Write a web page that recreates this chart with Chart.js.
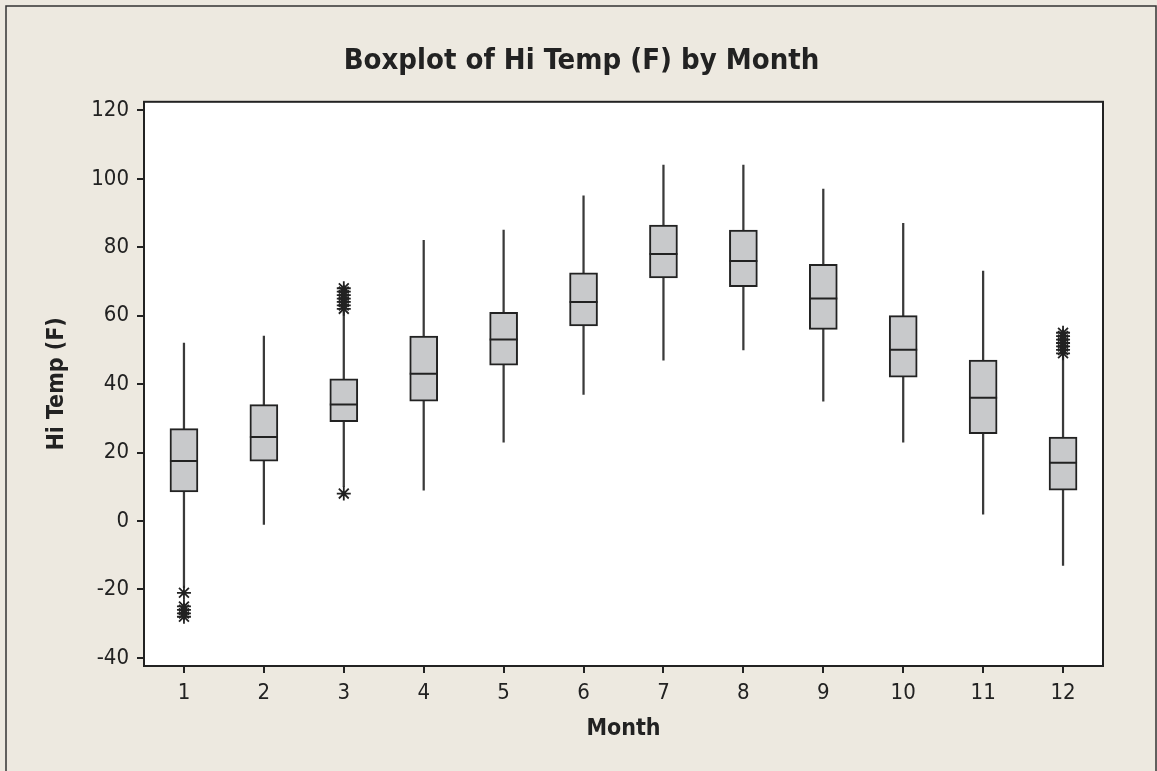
<!DOCTYPE html>
<html>
<head>
<meta charset="utf-8">
<script src="https://cdn.jsdelivr.net/npm/chart.js@4/dist/chart.umd.min.js"></script>
<style>
  html, body { margin: 0; padding: 0; background: #ede9e0; }
  #wrap { width: 1157px; height: 771px; position: relative; }
</style>
</head>
<body>
<div id="wrap"><canvas id="box-chart"></canvas></div>
<script>
// boxplot summary values per month
const months = ['1', '2', '3', '4', '5', '6', '7', '8', '9', '10', '11', '12'];
const whiskerLow = [-19.5, -1, 10, 9, 23, 37, 47, 50, 35, 23, 2, -13];
const q1 = [8.5, 17.5, 29, 35, 45.5, 57, 71, 68.5, 56, 42, 25.5, 9];
const medians = [17.5, 24.5, 34, 43, 53, 64, 78, 76, 65, 50, 36, 17];
const q3 = [27, 34, 41.5, 54, 61, 72.5, 86.5, 85, 75, 60, 47, 24.5];
const whiskerHigh = [52, 54, 61, 82, 85, 95, 104, 104, 97, 87, 73, 48];

// outliers (month, value)
const outlierMonths = ['1', '1', '1', '1', '1',
  '3', '3', '3', '3', '3', '3', '3', '3',
  '12', '12', '12', '12', '12', '12', '12'];
const outlierValues = [-21, -25, -26, -27, -28,
  8, 62, 63, 64, 65, 66, 67, 68,
  49, 50, 51, 52, 53, 54, 55];

const yTicks = [-40, -20, 0, 20, 40, 60, 80, 100, 120];

document.addEventListener('DOMContentLoaded', function () {
  const ink = '#222222';
  const face = "'DejaVu Sans Condensed', 'DejaVu Sans'";

  // frame, white plot area and its border
  const framePlugin = {
    id: 'frame',
    beforeDraw(chart) {
      const ctx = chart.ctx;
      const a = chart.chartArea;
      ctx.save();
      ctx.fillStyle = '#ede9e0';
      ctx.fillRect(0, 0, chart.width, chart.height);
      ctx.strokeStyle = '#333';
      ctx.lineWidth = 1.5;
      ctx.strokeRect(6, 6, chart.width - 7, chart.height + 10);
      ctx.fillStyle = '#ffffff';
      ctx.fillRect(a.left, a.top, a.right - a.left, a.bottom - a.top);
      ctx.restore();
    },
    afterDraw(chart) {
      const ctx = chart.ctx;
      const a = chart.chartArea;
      ctx.save();
      ctx.strokeStyle = ink;
      ctx.lineWidth = 2;
      ctx.strokeRect(a.left, a.top, a.right - a.left, a.bottom - a.top);
      ctx.restore();
    }
  };

  const ctx = document.getElementById('box-chart').getContext('2d');

  new Chart(ctx, {
    type: 'bar',
    data: {
      labels: months,
      datasets: [
        {
          label: 'Outliers',
          type: 'line',
          showLine: false,
          data: outlierMonths.map((m, i) => ({ x: m, y: outlierValues[i] })),
          pointStyle: 'star',
          pointRadius: 7,
          pointBorderWidth: 1.8,
          pointBorderColor: ink,
          pointBackgroundColor: ink,
          order: 0,
        },
        {
          label: 'Median',
          type: 'line',
          showLine: false,
          data: medians,
          pointStyle: 'line',
          pointRadius: 14,
          pointBorderWidth: 2,
          pointBorderColor: ink,
          order: 1,
        },
        {
          label: 'Box',
          data: months.map((m, i) => [q1[i], q3[i]]),
          backgroundColor: '#c8c9cb',
          borderColor: ink,
          borderWidth: 2,
          borderSkipped: false,
          barThickness: 28,
          grouped: false,
          order: 2,
        },
        {
          label: 'Whisker',
          data: months.map((m, i) => [whiskerLow[i], whiskerHigh[i]]),
          backgroundColor: '#3a3a3a',
          borderWidth: 0,
          barThickness: 1.6,
          grouped: false,
          order: 3,
        },
      ],
    },
    options: {
      responsive: true,
      maintainAspectRatio: false,
      animation: false,
      layout: {
        padding: { left: 60, right: 54, top: 0, bottom: 28 },
      },
      plugins: {
        legend: { display: false },
        tooltip: { enabled: false },
        title: {
          display: true,
          text: 'Boxplot of Hi Temp (F) by Month',
          color: ink,
          font: { family: face, size: 29, weight: 'bold' },
          padding: { top: 44, bottom: 23 },
        },
      },
      scales: {
        x: {
          offset: true,
          grid: {
            display: true,
            offset: false,
            drawOnChartArea: false,
            drawTicks: true,
            tickLength: 7,
            color: ink,
            lineWidth: 2,
          },
          border: { display: true, color: ink, width: 2 },
          ticks: {
            color: ink,
            font: { family: face, size: 22 },
            padding: 7,
          },
          title: {
            display: true,
            text: 'Month',
            color: ink,
            font: { family: face, size: 23, weight: 'bold' },
            padding: { top: 4, bottom: 0 },
          },
          afterFit(scale) { scale.height = 77; },
        },
        y: {
          min: -42.4,
          max: 122.5,
          afterBuildTicks(scale) {
            scale.ticks = yTicks.map(v => ({ value: v }));
          },
          grid: {
            display: true,
            drawOnChartArea: false,
            drawTicks: true,
            tickLength: 7,
            color: ink,
            lineWidth: 2,
          },
          border: { display: true, color: ink, width: 2 },
          ticks: {
            color: ink,
            font: { family: face, size: 22 },
            padding: 8,
          },
          title: {
            display: true,
            text: 'Hi Temp (F)',
            color: ink,
            font: { family: face, size: 23, weight: 'bold' },
            padding: { top: -17, bottom: 0 },
          },
          afterFit(scale) { scale.width = 84; },
        },
      },
    },
    plugins: [framePlugin],
  });
});
</script>
</body>
</html>
